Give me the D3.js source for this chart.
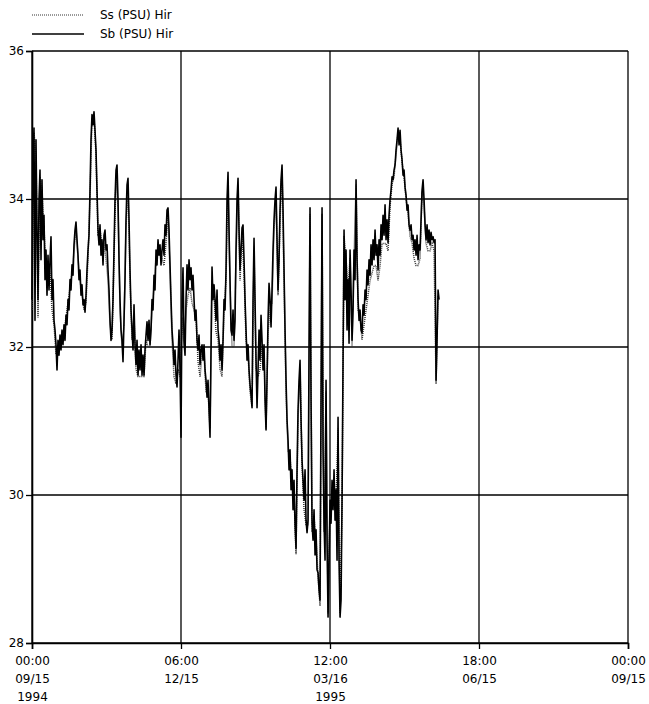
<!DOCTYPE html>
<html>
<head>
<meta charset="utf-8">
<script src="https://cdn.jsdelivr.net/npm/d3@7"></script>
<style>
  html, body { margin: 0; padding: 0; background: #fff; }
  svg { display: block; }
  text { font-family: "DejaVu Sans", sans-serif; font-size: 12px; fill: #000; }
</style>
</head>
<body>
<svg id="chart" width="649" height="704"></svg>
<script>
// ---------------- data ----------------
const seriesNames = ["Ss (PSU) Hir", "Sb (PSU) Hir"];
const seriesStart = "1994-09-15T00:00:00Z";
const sbStepHours = 14.7;   // Sb sampling interval
const ssStepHours = 29.4;   // Ss sampling interval

const sbValues = [
32.64,34.53,34.96,32.36,34.80,33.58,32.64,33.99,34.39,33.18,34.26,33.45,33.78,32.91,33.31,32.70,33.24,32.77,33.18,33.49,
32.64,32.91,32.36,32.23,32.03,31.69,32.09,31.89,32.16,31.96,32.23,32.03,32.30,32.09,32.43,32.30,32.64,32.50,32.91,32.77,
33.11,32.97,33.38,33.58,33.69,33.45,33.24,32.91,33.04,32.70,32.84,32.57,32.64,32.47,32.70,33.04,33.31,33.51,34.12,34.80,
35.14,35.00,35.18,34.93,34.66,34.12,33.58,33.38,33.65,33.24,33.45,33.11,33.51,33.58,33.31,33.38,33.04,32.77,32.36,32.09,
32.23,32.64,33.31,33.99,34.39,34.46,33.99,33.18,32.64,32.23,32.09,31.80,32.36,32.91,33.72,34.19,34.28,33.72,33.04,32.50,
32.23,31.96,32.57,32.03,31.76,32.09,31.62,31.96,31.69,32.03,31.62,31.89,31.62,31.96,32.16,32.34,32.09,32.36,32.03,32.23,
32.64,32.50,32.97,32.77,33.31,33.11,33.45,33.24,33.38,33.11,33.31,33.45,33.24,33.65,33.51,33.85,33.88,33.58,33.11,32.64,
32.23,32.03,31.76,31.96,31.62,31.46,31.82,32.23,31.69,30.78,32.64,33.07,32.09,31.89,32.64,33.11,32.77,33.18,32.91,33.07,
32.77,32.97,32.64,32.36,32.50,32.09,31.96,32.16,31.76,31.96,32.03,31.82,32.03,31.69,31.55,31.32,31.55,31.15,30.78,31.96,
33.08,32.64,32.84,32.64,32.36,32.77,32.23,32.09,31.82,32.03,31.69,32.09,32.64,32.50,33.04,33.99,34.36,33.58,32.91,32.23,
32.16,32.50,32.09,32.36,33.31,33.99,34.28,33.58,33.04,33.31,33.61,33.65,33.18,32.64,32.23,31.82,32.03,31.69,31.49,31.35,
31.18,32.64,33.47,32.64,31.82,31.18,31.69,32.23,31.82,32.43,32.09,31.69,32.03,31.28,30.88,31.55,32.36,32.86,32.64,32.27,
32.77,33.31,33.72,33.99,34.16,33.45,32.77,33.18,33.85,34.26,34.46,33.85,33.04,32.23,31.55,31.01,30.74,30.34,30.61,30.07,
30.34,29.80,30.20,29.59,29.28,30.34,31.15,31.55,31.82,31.01,30.47,30.20,29.93,30.34,29.66,29.49,29.66,31.96,33.88,31.28,
29.62,29.39,29.80,29.19,29.53,28.99,28.95,28.72,28.58,31.28,33.88,30.61,29.62,29.12,31.55,29.39,28.35,29.12,29.93,29.62,
30.20,29.80,30.34,29.66,30.07,29.12,31.05,29.12,28.35,28.58,29.93,31.82,33.58,32.64,33.31,32.23,32.91,32.05,33.31,32.77,
32.09,32.50,33.31,32.91,34.26,33.18,32.64,32.36,32.50,32.23,32.19,32.57,32.43,32.77,32.64,33.04,32.84,33.18,32.97,33.38,
33.11,33.45,33.18,33.58,33.24,33.38,33.04,33.45,33.24,33.65,33.45,33.78,33.51,33.92,33.45,33.72,33.41,33.78,33.99,34.12,
34.30,34.26,34.39,34.46,34.66,34.80,34.96,34.73,34.93,34.66,34.53,34.32,34.39,34.16,34.05,33.85,33.92,33.65,33.58,33.65,
33.45,33.51,33.31,33.45,33.24,33.51,33.18,33.38,33.31,33.72,34.12,34.26,33.99,33.65,33.45,33.65,33.41,33.58,33.38,33.55,
33.45,33.49,33.41,33.45,31.55,32.09,32.77,32.64
];

const ssValues = [
32.5,34.9,34.6,32.4,34.3,34.1,33.6,33.1,33.1,33.0,32.5,32.3,31.9,32.0,32.1,32.2,32.2,32.4,32.6,32.8,
33.0,33.3,33.6,33.2,32.9,32.7,32.5,32.6,33.2,34.0,35.1,35.1,34.6,33.5,33.6,33.4,33.4,33.2,32.9,32.3,
32.1,33.2,34.3,33.9,32.5,32.0,32.3,33.6,34.2,32.9,32.1,32.4,31.7,31.6,31.6,31.6,31.6,32.1,32.0,32.0,
32.5,32.8,33.2,33.3,33.3,33.2,33.1,33.4,33.8,33.0,32.1,31.6,31.5,31.7,31.6,32.4,32.0,32.5,32.7,32.8,
32.6,32.5,32.4,31.8,31.6,31.9,31.9,31.4,31.4,30.9,32.9,32.7,32.2,32.1,31.7,31.6,32.5,32.9,34.2,32.8,
32.0,32.0,33.2,34.2,32.9,33.5,33.0,32.1,31.9,31.4,31.2,33.3,31.7,31.6,31.7,32.0,31.9,30.9,32.2,32.5,
32.6,33.6,34.0,32.7,33.7,34.4,32.9,31.4,30.6,30.5,30.2,30.0,29.2,31.0,31.7,30.4,29.8,29.6,29.6,33.8,
29.5,29.7,29.4,28.9,28.5,33.8,29.5,31.4,28.4,29.8,30.1,30.2,29.9,30.9,28.4,29.8,33.5,33.2,32.8,33.2,
32.0,33.2,34.2,32.5,32.4,32.1,32.3,32.5,32.7,32.9,33.0,33.1,33.1,32.9,33.1,33.4,33.4,33.4,33.3,33.9,
34.2,34.3,34.6,34.9,34.8,34.5,34.3,34.0,33.8,33.5,33.4,33.2,33.1,33.1,33.2,34.1,33.9,33.4,33.3,33.3,
33.4,33.3,31.5,32.7
];

const yTicks = [28, 30, 32, 34, 36];
const xTickDates = ["1994-09-15T00:00:00Z", "1994-12-15T06:00:00Z", "1995-03-16T12:00:00Z", "1995-06-15T18:00:00Z", "1995-09-15T00:00:00Z"];
const xTickLabels = [
  ["00:00", "09/15", "1994"],
  ["06:00", "12/15", ""],
  ["12:00", "03/16", "1995"],
  ["18:00", "06/15", ""],
  ["00:00", "09/15", ""]
];

// ---------------- chart ----------------
const svg = d3.select("#chart");
const margin = { left: 32, right: 21, top: 51, bottom: 61 };
const W = 649, H = 704;
const t0 = new Date(seriesStart);
const tickDates = xTickDates.map(s => new Date(s));

const x = d3.scaleUtc()
  .domain([tickDates[0], tickDates[tickDates.length - 1]])
  .range([margin.left, W - margin.right]);
const y = d3.scaleLinear().domain([28, 36]).range([H - margin.bottom, margin.top]);

const toSeries = (vals, stepH) => vals.map((v, i) => ({ t: new Date(t0.getTime() + i * stepH * 3600e3), v }));
const sb = toSeries(sbValues, sbStepHours);
const ss = toSeries(ssValues, ssStepHours);

// grid
const g = svg.append("g");
g.selectAll(".hg").data(yTicks).enter().append("line")
  .attr("x1", margin.left).attr("x2", W - margin.right)
  .attr("y1", d => y(d)).attr("y2", d => y(d))
  .attr("stroke", "#000").attr("stroke-width", 1.3);
g.selectAll(".vg").data(tickDates).enter().append("line")
  .attr("x1", d => x(d)).attr("x2", d => x(d))
  .attr("y1", margin.top).attr("y2", H - margin.bottom)
  .attr("stroke", "#000").attr("stroke-width", 1.3);

// axes
const yAxis = svg.append("g").attr("transform", `translate(${margin.left},0)`)
  .call(d3.axisLeft(y).tickValues(yTicks).tickSize(6).tickPadding(2).tickFormat(d3.format("d")));
yAxis.select(".domain").attr("stroke", "#000").attr("stroke-width", 1.6);
yAxis.selectAll(".tick line").attr("stroke", "#000").attr("stroke-width", 1.3);
yAxis.selectAll("text").style("font-family", '"DejaVu Sans", sans-serif').style("font-size", "12px").attr("fill", "#000");

const xAxis = svg.append("g").attr("transform", `translate(0,${H - margin.bottom})`)
  .call(d3.axisBottom(x).tickValues(tickDates).tickSize(6).tickFormat(() => ""));
xAxis.select(".domain").attr("stroke", "#000").attr("stroke-width", 1.6);
xAxis.selectAll(".tick line").attr("stroke", "#000").attr("stroke-width", 1.3);
xAxis.selectAll(".tick").each(function(d, i) {
  const txt = d3.select(this).select("text")
    .attr("y", 0).attr("dy", null)
    .style("font-family", '"DejaVu Sans", sans-serif').style("font-size", "12px").attr("fill", "#000");
  xTickLabels[i].forEach((line, k) => {
    txt.append("tspan").attr("x", 0).attr("y", 22 + k * 18).text(line);
  });
});

// lines
const line = d3.line().x(d => x(d.t)).y(d => y(d.v));
svg.append("path").datum(ss).attr("d", line)
  .attr("fill", "none").attr("stroke", "#333").attr("stroke-width", 1.5)
  .attr("stroke-dasharray", "1,1");
svg.append("path").datum(sb).attr("d", line)
  .attr("fill", "none").attr("stroke", "#000").attr("stroke-width", 1.6)
  .attr("stroke-linejoin", "round");

// legend
const legend = svg.append("g");
seriesNames.forEach((name, i) => {
  const ly = 15 + i * 19;
  legend.append("line").attr("x1", 32).attr("x2", 84).attr("y1", ly).attr("y2", ly)
    .attr("stroke", i === 0 ? "#333" : "#000").attr("stroke-width", i === 0 ? 1 : 1.3)
    .attr("stroke-dasharray", i === 0 ? "1,1" : null);
  legend.append("text").attr("x", 100).attr("y", ly).attr("dy", "0.35em").text(name);
});
</script>
</body>
</html>
